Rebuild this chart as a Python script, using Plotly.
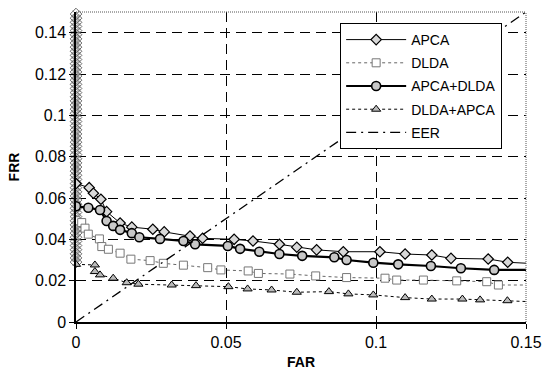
import plotly.graph_objects as go

# ---- data ----
apca_far = [0.0, 0.0044, 0.0058, 0.0083, 0.0102, 0.0147, 0.0186, 0.0256, 0.0294, 0.038, 0.0422,
            0.0527, 0.059, 0.0678, 0.0736, 0.0802, 0.0891, 0.1013, 0.1097, 0.1186, 0.125,
            0.1374, 0.1439, 0.152]
apca_frr = [0.067, 0.065, 0.0623, 0.0594, 0.0534, 0.0479, 0.0459, 0.0449, 0.0436, 0.0416, 0.0405,
            0.0400, 0.0392, 0.0376, 0.0362, 0.0349, 0.0340, 0.0340, 0.0329, 0.0324, 0.0308,
            0.0305, 0.0289, 0.0283]

dlda_far = [0.0, 0.0019, 0.003, 0.0041, 0.0078, 0.0086, 0.0108, 0.0147, 0.0183, 0.0247, 0.0291,
            0.0358, 0.0439, 0.0483, 0.0574, 0.0608, 0.0713, 0.0799, 0.0902, 0.103, 0.1069,
            0.1158, 0.1269, 0.1369, 0.1408, 0.152]
dlda_frr = [0.049, 0.0481, 0.0454, 0.0425, 0.0402, 0.0365, 0.0352, 0.0333, 0.0304, 0.0297, 0.0284,
            0.0275, 0.0263, 0.0252, 0.0247, 0.0235, 0.0232, 0.0223, 0.0215, 0.0212, 0.0203,
            0.0203, 0.0199, 0.0195, 0.0179, 0.0179]

apca_dlda_far = [0.0, 0.0041, 0.008, 0.0102, 0.0124, 0.0147, 0.0186, 0.0211, 0.028, 0.0358, 0.0397,
                 0.0506, 0.0547, 0.0611, 0.0678, 0.0754, 0.0861, 0.0902, 0.0991, 0.1074,
                 0.1183, 0.1283, 0.1394, 0.152]
apca_dlda_frr = [0.056, 0.0553, 0.0542, 0.0489, 0.0465, 0.0446, 0.0430, 0.0410, 0.0402, 0.0392, 0.0376,
                 0.0368, 0.0354, 0.0340, 0.0329, 0.0320, 0.0313, 0.0300, 0.0287, 0.0279,
                 0.0271, 0.0260, 0.0252, 0.0252]

dlda_apca_far = [0.0, 0.0063, 0.0063, 0.008, 0.0124, 0.0169, 0.0208, 0.0319, 0.04, 0.0508, 0.0572,
                 0.0652, 0.0736, 0.0843, 0.0908, 0.0991, 0.1097, 0.1186, 0.1288, 0.1347,
                 0.1438, 0.152]
dlda_apca_frr = [0.0279, 0.0276, 0.0244, 0.0228, 0.0212, 0.0190, 0.0183, 0.0179, 0.0176, 0.0171, 0.0160,
                 0.0155, 0.0144, 0.0147, 0.0136, 0.0131, 0.0118, 0.0111, 0.0111, 0.0107,
                 0.0103, 0.0098]

# many operating points at FAR = 0
far0_frr = [0.029, 0.031, 0.033, 0.035, 0.037, 0.039, 0.041, 0.043, 0.045, 0.047, 0.049,
            0.051, 0.053, 0.055, 0.057, 0.059, 0.061, 0.063, 0.065, 0.067, 0.069, 0.071,
            0.073, 0.075, 0.077, 0.079, 0.081, 0.083, 0.085, 0.087, 0.089, 0.091, 0.093,
            0.095, 0.097, 0.099, 0.101, 0.103, 0.105, 0.107, 0.109, 0.111, 0.113, 0.115,
            0.117, 0.119, 0.121, 0.123, 0.125, 0.127, 0.129, 0.131, 0.133, 0.135, 0.137,
            0.139, 0.141, 0.143, 0.145, 0.147, 0.149, 0.151]
far0_far = [0.0] * len(far0_frr)

eer_far = [0.0, 0.16]
eer_frr = [0.0, 0.16]

x_ticks = [0, 0.05, 0.1, 0.15]
x_ticktext = ["0", "0.05", "0.1", "0.15"]
y_ticks = [0, 0.02, 0.04, 0.06, 0.08, 0.1, 0.12, 0.14]
y_ticktext = ["0", "0.02", "0.04", "0.06", "0.08", "0.1", "0.12", "0.14"]

FONT = "Liberation Sans, Arial, Helvetica, sans-serif"

fig = go.Figure()

fig.add_trace(go.Scatter(
    x=far0_far, y=far0_frr, mode="markers", showlegend=False, cliponaxis=False,
    marker=dict(symbol="diamond-open", size=9, color="#666666", line=dict(width=1, color="#666666")),
    hoverinfo="skip"))
fig.add_trace(go.Scatter(
    x=far0_far, y=far0_frr, mode="markers", showlegend=False, cliponaxis=False,
    marker=dict(symbol="x-thin-open", size=7, color="#999999", line=dict(width=1, color="#999999")),
    hoverinfo="skip"))

fig.add_trace(go.Scatter(
    x=apca_far, y=apca_frr, name="APCA", mode="lines+markers", legendgroup="a",
    line=dict(color="black", width=1),
    marker=dict(symbol="diamond", size=8, color="#d8d8d8", line=dict(width=1.2, color="black"))))

fig.add_trace(go.Scatter(
    x=dlda_far, y=dlda_frr, name="DLDA", mode="lines+markers", legendgroup="b",
    line=dict(color="#666666", width=1, dash="dot"),
    marker=dict(symbol="square", size=8, color="white", line=dict(width=1, color="#777777"))))

fig.add_trace(go.Scatter(
    x=apca_dlda_far, y=apca_dlda_frr, name="APCA+DLDA", mode="lines+markers", legendgroup="c",
    line=dict(color="black", width=2.2),
    marker=dict(symbol="circle", size=9, color="#c8c8c8", line=dict(width=1.6, color="black"))))

fig.add_trace(go.Scatter(
    x=dlda_apca_far, y=dlda_apca_frr, name="DLDA+APCA", mode="lines+markers", legendgroup="d",
    line=dict(color="black", width=1, dash="dot"),
    marker=dict(symbol="triangle-up", size=8, color="#bbbbbb", line=dict(width=1, color="black"))))

fig.add_trace(go.Scatter(
    x=eer_far, y=eer_frr, name="EER", mode="lines", legendgroup="e",
    line=dict(color="black", width=1.3, dash="10px,5px,2px,5px")))

fig.update_layout(
    width=542, height=383,
    margin=dict(l=76, r=16, t=12, b=61),
    paper_bgcolor="white", plot_bgcolor="white",
    font=dict(family=FONT, color="black", size=16),
    legend=dict(x=0.587, y=0.9645, xanchor="left", yanchor="top",
                bordercolor="black", borderwidth=1, bgcolor="white",
                font=dict(size=14, family=FONT), tracegroupgap=2, itemwidth=60),
    shapes=[
        dict(type="line", xref="paper", yref="paper", x0=0, x1=1, y0=1, y1=1,
             line=dict(color="#555555", width=1, dash="1px,1px")),
        dict(type="line", xref="paper", yref="paper", x0=1, x1=1, y0=0, y1=1,
             line=dict(color="#555555", width=1, dash="1px,1px")),
    ],
)

fig.update_xaxes(
    range=[0, 0.15], tickvals=x_ticks, ticktext=x_ticktext, automargin=False,
    showgrid=False, zeroline=False,
    showline=True, linecolor="black", linewidth=1.5,
    ticks="outside", ticklen=5, tickcolor="black",
    minor=dict(tickvals=[0.05, 0.1], showgrid=True, gridcolor="black", gridwidth=1,
               griddash="10px,6px", ticks=""),
    title=dict(text="<b>FAR</b>", font=dict(size=14), standoff=7),
)
fig.update_yaxes(
    range=[0, 0.15], tickvals=y_ticks, ticktext=y_ticktext, automargin=False,
    showgrid=True, gridcolor="black", gridwidth=1, griddash="10px,6px",
    zeroline=False, showline=True, linecolor="black", linewidth=1.5,
    ticks="outside", ticklen=5, tickcolor="black",
    title=dict(text="<b>FRR</b>", font=dict(size=14), standoff=12),
)

fig.write_html("out.html", config={"displayModeBar": False},
               post_script="document.body.style.margin='0';document.body.style.overflow='hidden';")
